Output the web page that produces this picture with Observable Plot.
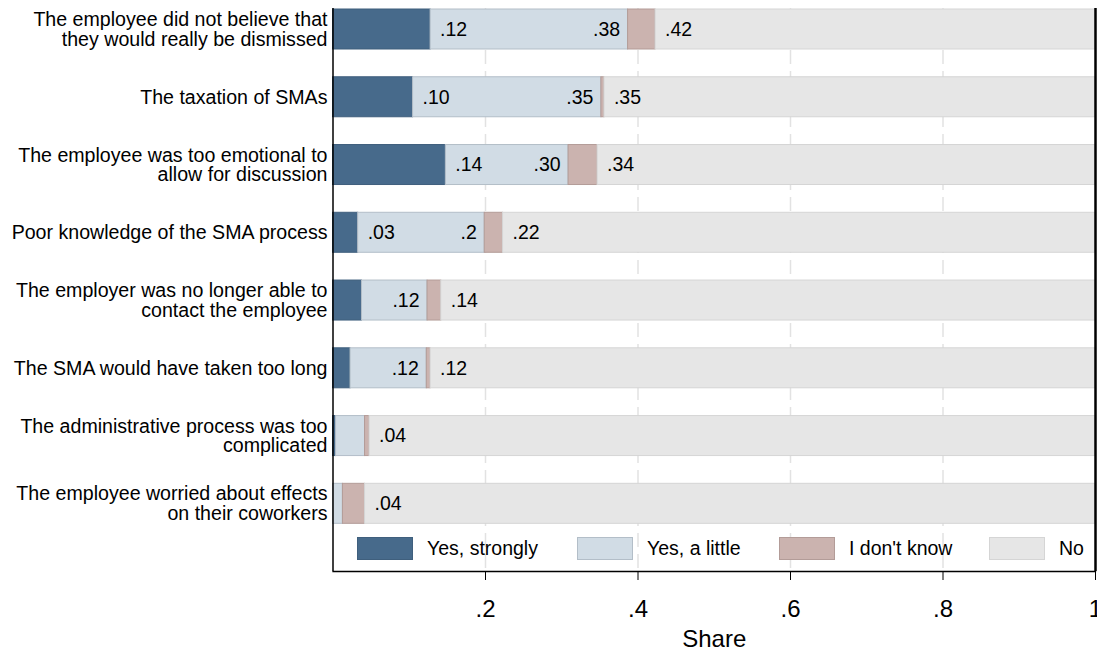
<!DOCTYPE html>
<html><head><meta charset="utf-8">
<script src="https://cdn.jsdelivr.net/npm/d3@7"></script>
<script src="https://cdn.jsdelivr.net/npm/@observablehq/plot@0.6"></script>
<style>
html,body{margin:0;padding:0;background:#fff;overflow:hidden}
#wrap{position:relative;width:1097px;height:653px;font-family:"Liberation Sans",Arial,sans-serif}
.item{position:absolute;top:537px;display:flex;align-items:center;height:23px;font-size:19.5px;color:#000;white-space:nowrap}
.sw{width:56px;height:23px;box-sizing:border-box;border:1px solid;margin-right:14px}
</style></head><body><div id="wrap"></div>
<script>
const categories = [
  "The employee did not believe that\nthey would really be dismissed",
  "The taxation of SMAs",
  "The employee was too emotional to\nallow for discussion",
  "Poor knowledge of the SMA process",
  "The employer was no longer able to\ncontact the employee",
  "The SMA would have taken too long",
  "The administrative process was too\ncomplicated",
  "The employee worried about effects\non their coworkers"
];
const series = ["Yes, strongly", "Yes, a little", "I don't know", "No"];
const strongly = [0.128, 0.105, 0.148, 0.033, 0.038, 0.023, 0.004, 0.000];
const aLittle  = [0.259, 0.247, 0.161, 0.166, 0.086, 0.100, 0.038, 0.013];
const dontKnow = [0.036, 0.004, 0.038, 0.024, 0.018, 0.005, 0.006, 0.029];
const no       = [0.577, 0.644, 0.653, 0.777, 0.858, 0.872, 0.952, 0.958];
const labelStrongly = [".12", ".10", ".14", ".03", "", "", "", ""];
const labelLittle   = [".38", ".35", ".30", ".2", ".12", ".12", "", ""];
const labelDontKnow = [".42", ".35", ".34", ".22", ".14", ".12", ".04", ".04"];
const xTicks = [0.2, 0.4, 0.6, 0.8, 1];
const fillColors   = ["#476a8b", "#d1dce5", "#cbb3af", "#e6e6e6"];
const strokeColors = ["#3f5f7d", "#b3bec8", "#b39c98", "#d5d5d5"];

const values = [strongly, aLittle, dontKnow, no];
const bars = [];
categories.forEach((c, i) => series.forEach((s, k) => bars.push({cat: c, series: s, k, value: values[k][i]})));

const labels = [];
categories.forEach((c, i) => {
  const c1 = strongly[i], c2 = c1 + aLittle[i], c3 = c2 + dontKnow[i];
  if (labelStrongly[i]) labels.push({cat: c, x: c1, text: labelStrongly[i], kind: "s"});
  if (labelLittle[i]) labels.push({cat: c, x: c2, text: labelLittle[i], kind: "l"});
  if (labelDontKnow[i]) labels.push({cat: c, x: c3, text: labelDontKnow[i], kind: "d"});
});

const step = 67.76, pInner = 0.4097;
const y0 = 9 - (pInner / 2) * step;
const font = "'Liberation Sans', Arial, sans-serif";

const chart = Plot.plot({
  width: 1097,
  height: 653,
  marginLeft: 332.5,
  marginRight: 2,
  marginTop: 8,
  marginBottom: 82,
  style: {fontFamily: font, background: "#fff", color: "#000"},
  x: {domain: [0, 1]},
  y: {domain: categories, range: [y0, y0 + 8 * step], paddingInner: pInner, paddingOuter: pInner / 2, round: false},
  color: {type: "identity"},
  marks: [
    Plot.ruleX([0.2, 0.4, 0.6, 0.8], {stroke: "#e2e2e2", strokeWidth: 1.5, strokeDasharray: "14 7"}),
    Plot.barX(bars, Plot.stackX({
      x: "value", y: "cat",
      fill: d => fillColors[d.k], stroke: d => strokeColors[d.k], strokeWidth: 1,
      order: null
    })),
    Plot.text(labels.filter(d => d.kind !== "l"), {x: "x", y: "cat", text: "text", textAnchor: "start", dx: 9.5, fontSize: 19.5, fill: "#000"}),
    Plot.text(labels.filter(d => d.kind === "l"), {x: "x", y: "cat", text: "text", textAnchor: "end", dx: -8, fontSize: 19.5, fill: "#000"}),
    Plot.ruleX([0], {stroke: "#000", strokeWidth: 1.5}),
    Plot.ruleX([1], {stroke: "#000", strokeWidth: 2.5}),
    Plot.frame({anchor: "bottom", stroke: "#000", strokeWidth: 1.3}),
    Plot.axisY({tickSize: 0, tickPadding: 5.5, fontSize: 19.6, lineHeight: 1.0, label: null, textAnchor: "end"}),
    Plot.axisX({ticks: xTicks, tickSize: 9, tickPadding: 19, fontSize: 24,
      tickFormat: d => d === 1 ? "1" : String(d).replace(/^0\./, "."),
      label: "Share", labelAnchor: "center", labelArrow: "none", labelOffset: 75})
  ]
});

const wrap = document.getElementById("wrap");
wrap.appendChild(chart);

const legendLefts = [357, 577, 779, 989];
series.forEach((s, k) => {
  const it = document.createElement("div");
  it.className = "item";
  it.style.left = legendLefts[k] + "px";
  const sw = document.createElement("div");
  sw.className = "sw";
  sw.style.background = fillColors[k];
  sw.style.borderColor = strokeColors[k];
  it.appendChild(sw);
  const t = document.createElement("span");
  t.textContent = s;
  it.appendChild(t);
  wrap.appendChild(it);
});
</script></body></html>
